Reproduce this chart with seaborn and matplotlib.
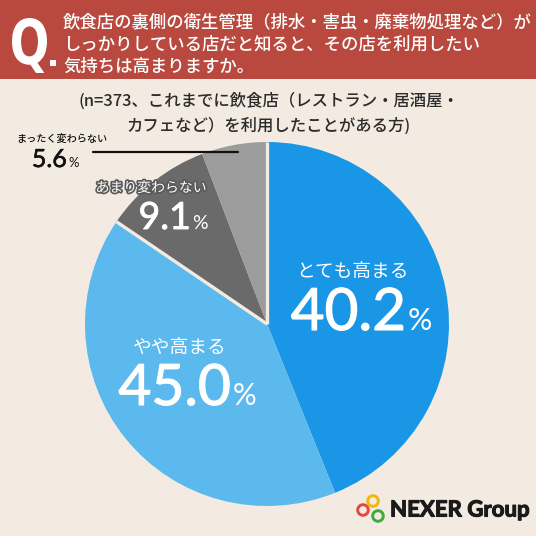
import matplotlib
matplotlib.use("Agg")
import numpy as np
import matplotlib.pyplot as plt
import matplotlib.patheffects as pe
from matplotlib.patches import Rectangle, Circle, PathPatch
from matplotlib.textpath import TextPath
from matplotlib.font_manager import FontProperties
from matplotlib.transforms import Affine2D
import seaborn as sns

# ---- data ----
categories = ["とても高まる", "やや高まる", "あまり変わらない", "まったく変わらない"]
value_labels = ["40.2", "45.0", "9.1", "5.6"]          # printed percentages
wedge_shares = [43.9, 40.6, 9.7, 5.8]                  # angular shares as drawn in the picture
colors = ["#1A96E6", "#5CB9EE", "#6A6A6A", "#9C9C9C"]

title_lines = [
    "飲食店の裏側の衛生管理（排水・害虫・廃棄物処理など）が",
    "しっかりしている店だと知ると、その店を利用したい",
    "気持ちは高まりますか。",
]
subtitle_lines = [
    "(n=373、これまでに飲食店（レストラン・居酒屋・",
    "カフェなど）を利用したことがある方)",
]

sns.set_theme(style="white")
plt.rcParams["font.family"] = ["Noto Sans CJK JP", "DejaVu Sans"]

BG = "#F3EBE1"
HEAD = "#B9493E"
W = H = 536
fig = plt.figure(figsize=(W / 100, H / 100), dpi=100, facecolor=BG)

# background axes in pixel coords
bg = fig.add_axes([0, 0, 1, 1], zorder=0)
bg.set_xlim(0, W); bg.set_ylim(H, 0); bg.axis("off")
bg.add_patch(Rectangle((0, 0), W, 79, color=HEAD, lw=0))

# pie axes
cx, cy, r = 267, 324, 182
pax = fig.add_axes([(cx - r) / W, 1 - (cy + r) / H, 2 * r / W, 2 * r / H], zorder=1)
pax.pie(wedge_shares, colors=colors, startangle=90, counterclock=False,
        wedgeprops=dict(linewidth=0))
# separator lines around the grey group (derived from the shares)
cum = np.cumsum([0] + wedge_shares) / np.sum(wedge_shares)
for frac in (cum[2], cum[4]):
    ang = np.deg2rad(90 - 360 * frac)
    pax.plot([0, np.cos(ang)], [0, np.sin(ang)], color=BG, lw=2.4,
             solid_capstyle="butt")
pax.set_xlim(-1, 1); pax.set_ylim(-1, 1); pax.set_aspect("equal")
pax.axis("off")

# overlay axes for text
ov = fig.add_axes([0, 0, 1, 1], zorder=2, facecolor="none")
ov.set_xlim(0, W); ov.set_ylim(H, 0); ov.axis("off")

# header "Q" fitted into its box (condensed)
qp = TextPath((0, 0), "Q", size=100, prop=FontProperties(family="DejaVu Sans", weight="bold"))
ext = qp.get_extents()
x0, y0, x1, y1 = 12, 18, 47, 73
tr = (Affine2D().translate(-ext.x0, -ext.y0)
      .scale((x1 - x0) / ext.width, -(y1 - y0) / ext.height)
      .translate(x0, y1))
ov.add_patch(PathPatch(tr.transform_path(qp), color="white", lw=0))
ov.add_patch(Rectangle((50, 60), 6, 6, color="white", lw=0))

for i, line in enumerate(title_lines):
    ov.text(63, 22 + i * 22.5, line, color="white", fontsize=12.5,
            fontweight="medium", ha="left", va="center")
for i, line in enumerate(subtitle_lines):
    ov.text(269, 101 + i * 25, line, color="#2B2B2B", fontsize=11.8,
            fontweight="medium", ha="center", va="center")

NUM = ["Lato", "DejaVu Sans"]

def pct(x, y, num, size, color, thick=0.6):
    fx = [pe.withStroke(linewidth=thick, foreground=color)]
    ov.text(x, y, num, color=color, fontsize=size, family=NUM, fontweight="normal",
            ha="right", va="baseline", path_effects=fx)
    ov.text(x + 1.5, y, "%", color=color, fontsize=size * 0.52, family=NUM,
            fontweight="normal", ha="left", va="baseline")

# とても高まる
ov.text(353, 271, categories[0], color="white", fontsize=13.5, ha="center", va="center")
pct(406, 330, value_labels[0], 42, "white", 0.8)
# やや高まる
ov.text(180, 348, categories[1], color="white", fontsize=13.5, ha="center", va="center")
pct(231, 405, value_labels[1], 41, "white", 0.8)
# あまり変わらない
stroke = [pe.withStroke(linewidth=2.5, foreground="#5A5A5A")]
ov.text(151, 188, categories[2], color="white", fontsize=10, ha="center", va="center",
        path_effects=stroke)
pct(191, 229, value_labels[2], 27, "white", 0.6)
# まったく変わらない
ov.text(62, 139, categories[3], color="#111111", fontsize=7.3, fontweight="medium",
        ha="center", va="center")
pct(67, 167, value_labels[3], 18, "#111111", 0.4)
ov.plot([93, 238], [152, 152], color="#111111", lw=1.6)

# logo
for (lx, ly, c) in [(373, 501, "#F2B705"), (363, 510, "#E2483B"), (378, 516, "#3DAA3F")]:
    ov.add_patch(Circle((lx, ly), 5.3, fill=False, ec=c, lw=2.1))
ov.text(390, 510, "NEXER Group", color="#1A1A1A", fontsize=16, fontweight="bold",
        family=["Lato", "DejaVu Sans"], ha="left", va="center",
        path_effects=[pe.withStroke(linewidth=0.8, foreground="#1A1A1A")])

fig.savefig("out.png", dpi=100, facecolor=BG)
